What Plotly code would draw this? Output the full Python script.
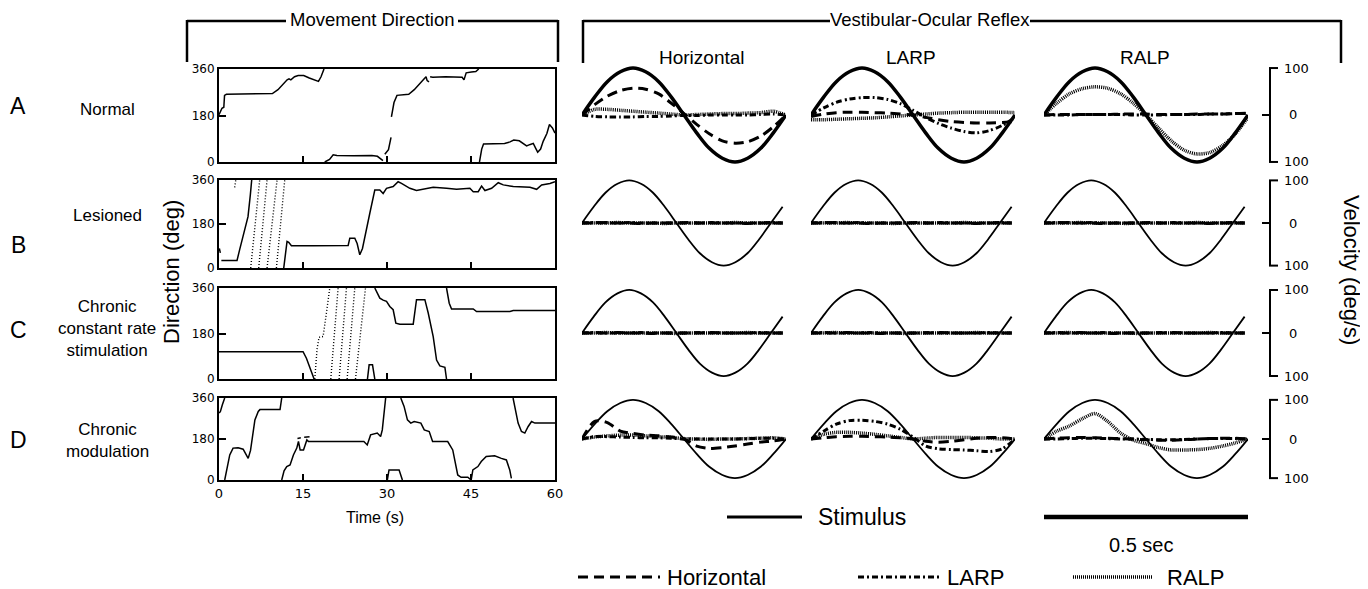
import plotly.graph_objects as go

W, H = 1368, 589
OFF = 8  # the page body margin shifts the figure by 8 px; positions below are page pixels
def px(x): return (x - OFF) / W
def py(y): return 1 - (y - OFF) / H

FONT = "Liberation Sans Narrow, Liberation Sans, Arial, sans-serif"
TICKFONT = "DejaVu Sans, Verdana, sans-serif"

# ---------------- Movement direction (time s, direction deg); None = wrap ----------------
a_t = [0, 0.33, 0.53, 0.86, 0.99, 1.32, 3.62, 7.57, 9.54, 10.53, 11.51, 12.17, 12.5, 12.83, 13.49, 14.14, 15.13, 16.12, 17.76, 18.22, 18.75, None,
       18.88, 19.74, 20.39, 21.05, 24.01, 27.3, 28.29, 29.28, None,
       29.61, 30.26, 30.72, None,
       30.79, 31.25, 31.78, 32.57, 33.88, 34.87, 35.86, 36.51, 36.97, 37.17, 37.5, None,
       37.7, 38.16, 40.46, 43.42, 43.75, 44.14, 45.07, 45.86, 46.38, None,
       46.51, 46.91, 47.24, 49.01, 50.99, 51.97, 52.63, 53.62, 54.41, 54.93, 55.59, 56.12, 56.58, 56.91, 57.43, 57.89, 58.55, 59.01, 59.54, 60]
a_deg = [183, 200, 208, 212, 258, 262, 263, 264, 265, 280, 305, 318, 322, 318, 330, 335, 335, 325, 312, 330, 360, None,
         0, 10, 28, 25, 24, 25, 22, 5, None,
         30, 48, 95, None,
         175, 230, 258, 260, 262, 280, 305, 318, 330, 315, 310, None,
         330, 328, 330, 328, 318, 345, 348, 350, 360, None,
         0, 50, 70, 72, 72, 78, 85, 82, 70, 62, 68, 72, 52, 38, 50, 80, 110, 145, 132, 112]

b_t = [0.06, 0.24, None, 0.42, 3.22, 3.69, 4.59, 5.18, 5.6, 5.84, None,
       11.56, 11.92, 12.15, 12.45, 12.93, 16.8, 23.06, 23.36, 24.25, 24.67, 25.14, 25.62, 26.04, 26.93, 27.82, 28.72,
       29.31, 29.91, 31.1, 31.99, 32.59, 34.08, 35.27, 36.46, 38.25, 40.63, 42.42, 44.8, 45.4, 46.29, 46.89, 47.49,
       48.68, 49.87, 50.76, 52.55, 55.53, 56.72, 57.61, 59.1, 60]
b_deg = [80, 62, None, 31, 31, 75, 156, 210, 300, 360, None,
         0, 80, 109, 105, 91, 91, 92, 122, 122, 100, 54, 80, 122, 224, 319, 319,
         305, 326, 333, 353, 346, 326, 317, 322, 330, 326, 322, 326, 312, 312, 335, 317,
         326, 349, 340, 333, 330, 322, 340, 346, 353]
b_fast_t = [2.8, 3.0, None, 5.66, 7.27, None, 7.09, 8.58, None, 8.58, 10.37, None, 10.25, 11.74]
b_fast_deg = [330, 360, None, 0, 360, None, 0, 360, None, 0, 360, None, 0, 360]

c_t = [0, 15.01, 15.61, 16.21, 16.8, 16.98, None,
       26.51, 26.81, 27.41, 27.82, None,
       27.82, 28.72, 29.31, 29.91, 30.5, 31.1, 31.58, 32.29, 34.68, 35.27, 36.76, 37.36, 38.25, 38.85, 39.44, 40.34, 40.63, None,
       40.63, 41.11, 41.53, 45.4, 45.99, 51.95, 52.55, 60]
c_deg = [108, 108, 82, 42, 7, 0, None,
         0, 56, 56, 0, None,
         360, 320, 312, 307, 287, 274, 221, 217, 217, 314, 314, 261, 168, 75, 52, 46, 0, None,
         360, 300, 277, 277, 267, 267, 271, 271]
c_fast_t = [17.1, 17.52, 17.87, 18.59, 19.18, 19.78, None, 19.96, 21.27, None, 21.45, 22.76, None, 22.88, 24.25, None, 24.37, 26.16]
c_fast_deg = [0, 120, 165, 168, 261, 360, None, 0, 360, None, 0, 360, None, 0, 360, None, 0, 360]

d_t = [0, 0.24, 0.6, 1.02, None,
       1.02, 1.44, 1.92, 2.51, 3.41, 4.31, 4.91, 5.21, 5.63, 5.81, 6.41, 7.01, 7.31, 9.1, 10.9, 11.2, None,
       11.2, 11.62, 12.1, 12.69, 13.29, 13.89, 14.19, 14.49, 15.09, 15.69, 15.99, 19.88, 25.87, 26.47, 27.07, 28.26, 28.86, 29.16, 29.76, None,
       14.01, 14.61, None, 15.21, 16.17, None,
       30.06, 30.36, 32.16, 32.75, None,
       32.46, 33.05, 33.65, 34.25, 34.85, 36.05, 36.65, 37.54, 38.14, 40.84, 41.74, 42.63, 43.23, 44.43, 45.03, None,
       45.03, 45.33, 46.23, 46.83, 47.72, 49.22, 50.42, 51.32, 51.92, 52.21, None,
       52.51, 53.41, 54.01, 54.61, 55.21, 55.81, 56.41, 60]
d_deg = [294, 300, 330, 360, None,
         0, 60, 110, 140, 142, 135, 105, 95, 130, 162, 264, 301, 309, 309, 309, 360, None,
         0, 40, 59, 66, 110, 140, 169, 132, 132, 176, 169, 170, 169, 154, 198, 206, 191, 220, 360, None,
         182, 185, None, 188, 190, None,
         0, 44, 44, 0, None,
         360, 323, 264, 250, 257, 250, 220, 213, 169, 169, 132, 22, 12, 12, 0, None,
         0, 44, 59, 81, 103, 106, 95, 88, 44, 7, None,
         360, 250, 213, 206, 235, 257, 250, 250]

dir_ticks = [0, 180, 360]
time_ticks = [0, 15, 30, 45, 60]

# ---------------- VOR traces (deg/s) sampled every 1/32 s ----------------
vor_t = [0, 0.031, 0.062, 0.094, 0.125, 0.156, 0.188, 0.219, 0.25, 0.281, 0.312, 0.344, 0.375, 0.406, 0.438, 0.469, 0.5, 0.531]
stimulus = [0, 38, 71, 92, 100, 92, 71, 38, 0, -38, -71, -92, -100, -92, -71, -38, 0, 38]

# Row A (Normal): columns Horizontal / LARP / RALP; responses horizontal (h), LARP (l), RALP (r)
A1_h = [0, 22, 40, 52, 57, 55, 45, 25, 3, -20, -40, -55, -60, -57, -45, -25, 0]
A1_l = [0, -3, -4, -4, -4, -3, -3, -2, -1, -1, 0, 0, 0, 0, 1, 2, 0]
A1_r = [0, 12, 12, 10, 8, 6, 4, 2, 0, 1, 2, 3, 3, 4, 5, 8, 0]
A2_h = [-3, 2, 5, 6, 6, 5, 4, 2, 0, -5, -10, -14, -16, -17, -17, -16, -14]
A2_l = [0, 15, 27, 34, 37, 37, 33, 24, 10, -5, -18, -28, -35, -38, -33, -22, -5]
A2_r = [-10, -10, -9, -8, -7, -6, -4, -2, 0, 2, 4, 5, 6, 6, 6, 6, 5]
A3_h = [0, 1, 1, 1, 1, 1, 2, 2, 2, 1, 1, 1, 2, 2, 2, 3, 3]
A3_l = [0, 0, 0, 1, 1, 1, 1, 0, 0, 0, 1, 1, 1, 2, 2, 3, 4]
A3_r = [0, 25, 45, 56, 60, 57, 45, 25, 0, -28, -55, -75, -83, -80, -65, -40, -5]

# Rows B (Lesioned) and C (Chronic constant rate): flat responses
B_h = [0, 0, 1, 0, 0, -1, 0, 0, 0, 1, 0, 0, 0, 0, -1, 0, 0, 0]
B_l = [0, 1, 0, 0, 1, 0, 0, 0, 0, 0, 0, 1, 0, 0, 0, 0, 1, 0]
B_r = [0, 0, 0, 1, 0, 0, 0, -1, 0, 0, 0, 0, 0, 1, 0, 0, 0, 0]
C_h = [0, 0, 0, 1, 0, 0, -1, 0, 0, 0, 0, 1, 0, 0, 0, 0, 0, 0]
C_l = [0, 1, 0, 0, 0, 1, 0, 0, 0, 0, 1, 0, 0, 0, 0, 1, 0, 0]
C_r = [0, 0, 1, 0, 0, 0, 0, 0, -1, 0, 0, 0, 0, 0, 1, 0, 0, 0]

# Row D (Chronic modulation)
D1_h = [0, 45, 42, 20, 14, 10, 8, 5, 0, -18, -24, -22, -18, -13, -8, -5, 0]
D1_l = [0, 6, 6, 5, 4, 3, 3, 2, 0, 0, 0, 0, 0, 1, 2, 2, 0]
D1_r = [0, 5, 8, 10, 10, 8, 6, 4, 1, 0, -1, 0, 0, 1, 2, 3, 0]
D2_h = [0, 3, 6, 7, 7, 6, 5, 3, 0, -6, -8, -6, -2, 2, 4, 3, 0]
D2_l = [0, 20, 38, 47, 48, 45, 38, 25, 5, -18, -25, -27, -28, -30, -32, -25, 0]
D2_r = [0, 12, 17, 17, 15, 12, 8, 4, 0, 2, 4, 4, 4, 3, 2, 0, 0]
D3_h = [0, 2, 3, 4, 3, 2, 1, 0, -2, -3, -3, -2, 0, 1, 2, 2, 0]
D3_l = [0, 0, 1, 2, 2, 1, 0, 0, -1, -2, -2, -1, 0, 1, 1, 1, 0]
D3_r = [0, 20, 33, 52, 65, 45, 15, -3, -12, -22, -28, -28, -27, -24, -18, -10, 0]

scale_ticks = [100, 0, -100]
scale_labels = ["100", "0", "100"]

rows = ["A", "B", "C", "D"]
row_labels = ["Normal", "Lesioned", "Chronic<br>constant rate<br>stimulation", "Chronic<br>modulation"]
col_titles = ["Horizontal", "LARP", "RALP"]
legend_names = ["Horizontal", "LARP", "RALP"]

# ---------------- layout geometry (page pixels) ----------------
left_x = (219, 555)
left_y = [(69, 162), (180, 268), (288, 379), (398, 480)]
vor_cols = [(582, 786), (811, 1015), (1044, 1248)]
vor_rows = [(61, 169), (174, 272), (283.5, 382.5), (394, 484)]

fig = go.Figure()
layout = dict(width=W, height=H, margin=dict(l=0, r=0, t=0, b=0, pad=0, autoexpand=False),
              paper_bgcolor="white", plot_bgcolor="white", showlegend=False,
              font=dict(family=FONT, color="black"))

move_data = [(a_t, a_deg, None, None), (b_t, b_deg, b_fast_t, b_fast_deg),
             (c_t, c_deg, c_fast_t, c_fast_deg), (d_t, d_deg, None, None)]

for i in range(4):
    n = i + 1
    xa = "x" if n == 1 else f"x{n}"
    ya = "y" if n == 1 else f"y{n}"
    t, dg, ft, fd = move_data[i]
    fig.add_trace(go.Scatter(x=t, y=dg, mode="lines", line=dict(color="black", width=1.5),
                             connectgaps=False, xaxis=xa, yaxis=ya))
    if ft is not None:
        fig.add_trace(go.Scatter(x=ft, y=fd, mode="lines", line=dict(color="black", width=1.4, dash="1px,2px"),
                                 connectgaps=False, xaxis=xa, yaxis=ya))
    last = (i == 3)
    layout["xaxis" if n == 1 else f"xaxis{n}"] = dict(
        domain=[px(left_x[0]), px(left_x[1])], range=[0, 60], anchor=ya,
        showline=True, mirror=True, linecolor="black", linewidth=2,
        showgrid=False, zeroline=False, ticks="inside", ticklen=6, tickwidth=2, tickcolor="black",
        tickvals=time_ticks if last else time_ticks[1:4], showticklabels=last, automargin=False,
        tickfont=dict(family=TICKFONT, size=13), fixedrange=True)
    layout["yaxis" if n == 1 else f"yaxis{n}"] = dict(
        domain=[py(left_y[i][1]), py(left_y[i][0])], range=[0, 360], anchor=xa,
        showline=True, mirror=True, linecolor="black", linewidth=2, automargin=False,
        showgrid=False, zeroline=False, ticks="inside", ticklen=7, tickwidth=2, tickcolor="black",
        tickvals=dir_ticks, tickfont=dict(family=TICKFONT, size=12), fixedrange=True)

vor_data = [
    [(A1_h, A1_l, A1_r), (A2_h, A2_l, A2_r), (A3_h, A3_l, A3_r)],
    [(B_h, B_l, B_r)] * 3,
    [(C_h, C_l, C_r)] * 3,
    [(D1_h, D1_l, D1_r), (D2_h, D2_l, D2_r), (D3_h, D3_l, D3_r)],
]
styles = [dict(dash="10px,6px", width=3), dict(dash="6px,3px,2px,3px", width=3), dict(dash="1px,1px", width=3.5)]

shapes = []
annotations = []

for r in range(4):
    for c in range(3):
        n = 5 + r * 3 + c
        xa, ya = f"x{n}", f"y{n}"
        npts = len(vor_data[r][c][0])
        tt = vor_t[:npts]
        for k in range(3):
            fig.add_trace(go.Scatter(x=tt, y=vor_data[r][c][k], mode="lines",
                                     line=dict(color="black", shape="spline", smoothing=0.8, **styles[k]),
                                     xaxis=xa, yaxis=ya))
        fig.add_trace(go.Scatter(x=tt, y=stimulus[:npts], mode="lines",
                                 line=dict(color="black", width=3.5 if r == 0 else 1.8, shape="spline", smoothing=1.0),
                                 xaxis=xa, yaxis=ya))
        layout[f"xaxis{n}"] = dict(domain=[px(vor_cols[c][0]), px(vor_cols[c][1])],
                                   range=[0, 0.5] if r in (0, 3) else [0, 0.54],
                                   visible=False, anchor=ya, fixedrange=True, automargin=False)
        layout[f"yaxis{n}"] = dict(domain=[py(vor_rows[r][1]), py(vor_rows[r][0])], range=[-115, 115],
                                   visible=False, anchor=xa, fixedrange=True, automargin=False)
    # velocity scale bracket for the row
    yref = f"y{5 + r * 3 + 2}"
    bx = 1270
    shapes.append(dict(type="line", xref="paper", yref=yref, x0=px(bx), x1=px(bx), y0=scale_ticks[2], y1=scale_ticks[0],
                       line=dict(color="black", width=2)))
    shapes.append(dict(type="line", xref="paper", yref=yref, x0=px(bx - 1), x1=px(bx + 8), y0=scale_ticks[0], y1=scale_ticks[0],
                       line=dict(color="black", width=2)))
    shapes.append(dict(type="line", xref="paper", yref=yref, x0=px(bx - 1), x1=px(bx + 8), y0=scale_ticks[2], y1=scale_ticks[2],
                       line=dict(color="black", width=2)))
    shapes.append(dict(type="line", xref="paper", yref=yref, x0=px(bx - 8), x1=px(bx), y0=scale_ticks[1], y1=scale_ticks[1],
                       line=dict(color="black", width=2)))
    for v, lab in zip(scale_ticks, scale_labels):
        annotations.append(dict(text=lab, xref="paper", yref=yref, x=px(bx + 12 if v != 0 else bx + 17), y=v,
                                xanchor="left", yanchor="middle", showarrow=False,
                                font=dict(family=TICKFONT, size=13)))

# header brackets
def hline(x0, x1, y, w=2.5):
    shapes.append(dict(type="line", xref="paper", yref="paper", x0=px(x0), x1=px(x1), y0=py(y), y1=py(y),
                       line=dict(color="black", width=w)))
def vline(x, y0, y1, w=2.5):
    shapes.append(dict(type="line", xref="paper", yref="paper", x0=px(x), x1=px(x), y0=py(y0), y1=py(y1),
                       line=dict(color="black", width=w)))

hline(187, 286, 21); hline(458, 558, 21); vline(187, 20, 62); vline(558, 20, 62)
hline(583, 830, 21); hline(1030, 1341, 21); vline(583, 20, 63); vline(1341, 20, 63)

def text(s, x, y, size, anchor="center", angle=0, family=FONT):
    annotations.append(dict(text=s, xref="paper", yref="paper", x=px(x), y=py(y), xanchor=anchor,
                            yanchor="middle", showarrow=False, textangle=angle,
                            font=dict(family=family, size=size, color="black")))

text("Movement Direction", 372, 20, 18.5)
text("Vestibular-Ocular Reflex", 930, 20, 18.5)
letter_y = [106, 245, 330, 440]
label_y = [110, 215, 328, 440]
for r in range(4):
    text(rows[r], 18, letter_y[r], 23, family="Liberation Sans, Arial, sans-serif")
    text(row_labels[r], 107, label_y[r], 17)
text("Direction (deg)", 171, 272, 22, angle=-90)
text("Time (s)", 375, 517, 16)
for c in range(3):
    text(col_titles[c], [702, 911, 1145][c], 57, 19)
text("Velocity (deg/s)", 1352, 270, 22, angle=90)

# stimulus sample + 0.5 s scale bar (in RALP column time units)
shapes.append(dict(type="line", xref="paper", yref="paper", x0=px(727), x1=px(802), y0=py(517), y1=py(517),
                   line=dict(color="black", width=3)))
text("Stimulus", 816, 517, 23, anchor="left")
shapes.append(dict(type="line", xref="x16", yref="paper", x0=vor_t[0], x1=vor_t[16], y0=py(517), y1=py(517),
                   line=dict(color="black", width=4.5)))
text("0.5 sec", 1141, 545, 20)

# line-style legend
leg_x = [(578, 660), (858, 940), (1073, 1152)]
leg_text_x = [665, 945, 1165]
for k in range(3):
    shapes.append(dict(type="line", xref="paper", yref="paper", x0=px(leg_x[k][0]), x1=px(leg_x[k][1]),
                       y0=py(577), y1=py(577), line=dict(color="black", **styles[k])))
    text(legend_names[k], leg_text_x[k], 577, 22, anchor="left")

layout["shapes"] = shapes
layout["annotations"] = annotations
fig.update_layout(**layout)
fig.write_html("out.html")
